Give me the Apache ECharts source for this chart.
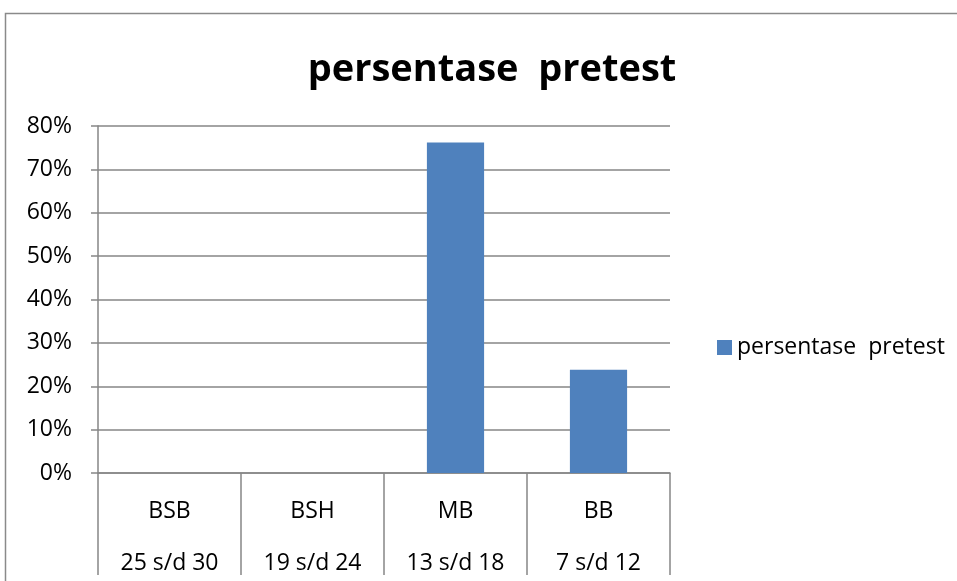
<!DOCTYPE html>
<html>
<head>
<meta charset="utf-8">
<script src="https://cdn.jsdelivr.net/npm/echarts@6/dist/echarts.min.js"></script>
<style>
html,body{margin:0;padding:0;background:#fff;}
#chart{width:957px;height:581px;}
</style>
</head>
<body>
<div id="chart"></div>
<script>
// data
var kategori = ['BSB', 'BSH', 'MB', 'BB'];
var rentang = ['25 s/d 30', '19 s/d 24', '13 s/d 18', '7 s/d 12'];
var persentase = [0, 0, 0.762, 0.238];
var namaSeri = 'persentase  pretest';

var myChart = echarts.init(document.getElementById('chart'));
var option = {
    backgroundColor: '#fff',
    textStyle: {fontFamily: 'Open Sans'},
    title: {
        text: 'persentase  pretest',
        left: 487,
        textAlign: 'center',
        top: 46,
        textStyle: {
            color: '#000',
            fontFamily: 'Open Sans',
            fontSize: 38,
            fontWeight: 'bold'
        }
    },
    graphic: [{
        type: 'rect',
        shape: {x: 5.5, y: 13.5, width: 980, height: 620},
        style: {fill: 'none', stroke: '#8a8a8a', lineWidth: 1.5},
        silent: true
    }],
    legend: {
        data: [namaSeri],
        left: 712,
        top: 331,
        itemWidth: 15,
        itemHeight: 15,
        icon: 'rect',
        textStyle: {color: '#000', fontSize: 23, fontFamily: 'Open Sans'}
    },
    grid: {
        left: 98,
        right: 287,
        top: 126,
        bottom: 108,
        containLabel: false,
        outerBoundsMode: 'none'
    },
    xAxis: {
        type: 'category',
        data: kategori,
        axisLine: {lineStyle: {color: '#868686', width: 1.5}},
        axisTick: {show: true, length: 102, lineStyle: {color: '#868686', width: 1.5}},
        axisLabel: {
            margin: 12,
            color: '#000',
            fontSize: 23,
            lineHeight: 52,
            formatter: function (v, i) {
                return v + '\n' + rentang[i];
            }
        }
    },
    yAxis: {
        type: 'value',
        min: 0,
        max: 0.8,
        interval: 0.1,
        axisLine: {show: true, lineStyle: {color: '#868686', width: 1.5}},
        axisTick: {show: true, length: 7, lineStyle: {color: '#868686', width: 1.5}},
        axisLabel: {
            margin: 26,
            color: '#000',
            fontSize: 23,
            formatter: function (v) {
                return Math.round(v * 100) + '%';
            }
        },
        splitLine: {lineStyle: {color: '#868686', width: 1.5}}
    },
    series: [{
        name: namaSeri,
        type: 'bar',
        data: persentase,
        barCategoryGap: '60%',
        itemStyle: {color: '#4f81bd'}
    }]
};
myChart.setOption(option);

window.addEventListener('resize', function () {
    myChart.resize();
});
</script>
</body>
</html>
